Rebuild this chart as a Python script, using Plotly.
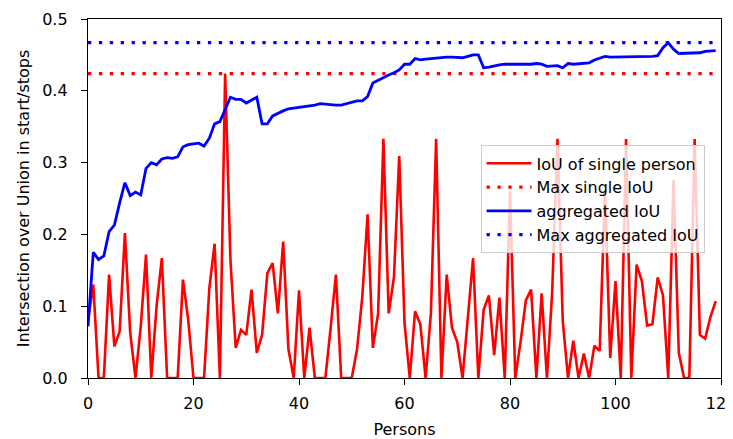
import plotly.graph_objects as go

persons = list(range(120))

iou_single = [
    0.08, 0.13, 0.0, 0.0, 0.144, 0.044, 0.065, 0.202, 0.063, 0.0,
    0.072, 0.172, 0.0, 0.10, 0.167, 0.0, 0.0, 0.0, 0.137, 0.081,
    0.0, 0.0, 0.0, 0.125, 0.187, 0.0, 0.424, 0.165, 0.042, 0.067,
    0.06, 0.123, 0.035, 0.06, 0.146, 0.16, 0.09, 0.19, 0.04, 0.0,
    0.122, 0.0, 0.07, 0.0, 0.0, 0.0, 0.07, 0.144, 0.0, 0.0,
    0.0, 0.04, 0.113, 0.228, 0.042, 0.09, 0.333, 0.09, 0.14, 0.309,
    0.077, 0.0, 0.093, 0.075, 0.0, 0.09, 0.333, 0.0, 0.144, 0.07,
    0.05, 0.0, 0.08, 0.167, 0.0, 0.095, 0.115, 0.032, 0.112, 0.0,
    0.26, 0.0, 0.05, 0.108, 0.123, 0.0, 0.118, 0.0, 0.12, 0.333,
    0.08, 0.0, 0.052, 0.0, 0.034, 0.0, 0.045, 0.038, 0.26, 0.028,
    0.135, 0.0, 0.333, 0.0, 0.158, 0.135, 0.073, 0.075, 0.14, 0.115,
    0.0, 0.276, 0.035, 0.0, 0.0, 0.333, 0.06, 0.055, 0.085, 0.107,
]

iou_aggregated = [
    0.072, 0.175, 0.165, 0.17, 0.204, 0.213, 0.244, 0.272, 0.254, 0.259,
    0.255, 0.292, 0.30, 0.297, 0.305, 0.307, 0.306, 0.308, 0.322, 0.325,
    0.326, 0.327, 0.323, 0.334, 0.354, 0.357, 0.374, 0.391, 0.388, 0.388,
    0.383, 0.387, 0.391, 0.354, 0.354, 0.365, 0.369, 0.372, 0.375, 0.376,
    0.376, 0.377, 0.378, 0.380, 0.382, 0.381, 0.380, 0.380, 0.380, 0.382,
    0.383, 0.386, 0.386, 0.392, 0.411, 0.415, 0.418, 0.422, 0.425, 0.429,
    0.437, 0.437, 0.445, 0.443, 0.444, 0.445, 0.445, 0.446, 0.447, 0.447,
    0.447, 0.446, 0.448, 0.45, 0.45, 0.432, 0.433, 0.435, 0.436, 0.437,
    0.437, 0.437, 0.436, 0.436, 0.437, 0.438, 0.437, 0.434, 0.434, 0.435,
    0.432, 0.438, 0.437, 0.438, 0.439, 0.439, 0.443, 0.445, 0.448, 0.447,
    0.447, 0.447, 0.447, 0.447, 0.448, 0.448, 0.448, 0.448, 0.449, 0.46,
    0.467, 0.458, 0.452, 0.452, 0.453, 0.452, 0.453, 0.455, 0.456, 0.456,
]

x_ticks = [0, 20, 40, 60, 80, 100, 120]
y_ticks = [0.0, 0.1, 0.2, 0.3, 0.4, 0.5]

max_single = max(iou_single)
max_agg = max(iou_aggregated)
span = [persons[0], persons[-1]]

FONT = "DejaVu Sans"
FS = 16
DOT = "3.3px,7.6px"

fig = go.Figure()
fig.add_trace(go.Scatter(x=persons, y=iou_single, mode="lines",
                         line=dict(color="#ff0000", width=2.6),
                         name="IoU of single person"))
fig.add_trace(go.Scatter(x=span, y=[max_single, max_single], mode="lines",
                         line=dict(color="#ff0000", width=3.2, dash=DOT),
                         name="Max single IoU"))
fig.add_trace(go.Scatter(x=persons, y=iou_aggregated, mode="lines",
                         line=dict(color="#0000ff", width=2.8),
                         name="aggregated IoU"))
fig.add_trace(go.Scatter(x=span, y=[max_agg, max_agg], mode="lines",
                         line=dict(color="#0000ff", width=3.2, dash=DOT),
                         name="Max aggregated IoU"))

axis_common = dict(
    showline=True, linecolor="black", linewidth=1.3, mirror=True,
    ticks="outside", ticklen=6, tickwidth=1.3, tickcolor="black",
    showgrid=False, zeroline=False, ticklabeloverflow="allow",
    automargin=False,
    tickfont=dict(family=FONT, size=FS, color="black"),
)

fig.update_xaxes(range=[0, 120], tickvals=x_ticks,
                 ticktext=[str(v) for v in x_ticks],
                 ticklabelstandoff=5,
                 title=dict(text="Persons", font=dict(family=FONT, size=FS, color="black"), standoff=14),
                 **axis_common)
fig.update_yaxes(range=[0, 0.5], tickvals=y_ticks,
                 ticktext=[f"{v:.1f}" for v in y_ticks],
                 ticklabelstandoff=10,
                 title=dict(text="Intersection over Union in start/stops",
                            font=dict(family=FONT, size=FS, color="black"), standoff=8),
                 **axis_common)

# the page body adds an 8px offset, so the figure is 8px smaller than the window
fig.update_layout(
    width=725, height=431,
    margin=dict(l=80, r=12, t=11, b=61),
    plot_bgcolor="white", paper_bgcolor="white",
    font=dict(family=FONT, size=FS, color="black"),
    legend=dict(
        x=0.974, y=0.648, xanchor="right", yanchor="top",
        bgcolor="rgba(255,255,255,0.8)", bordercolor="#cccccc", borderwidth=1,
        font=dict(family=FONT, size=FS, color="black"),
        itemwidth=45, tracegroupgap=0,
    ),
    showlegend=True,
)

fig.write_html("out.html")
